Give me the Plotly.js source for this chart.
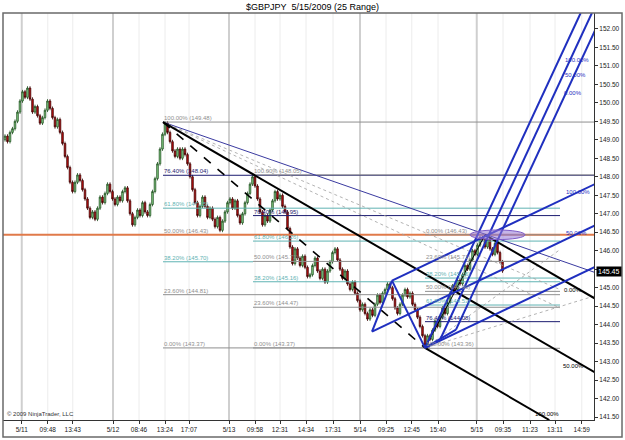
<!DOCTYPE html>
<html><head><meta charset="utf-8">
<script src="https://cdn.plot.ly/plotly-3.0.1.min.js"></script>
<style>html,body{margin:0;padding:0;background:#fff}#chart{width:625px;height:440px}</style>
</head><body><div id="chart"></div>
<script>
// ---- price data (25-range bars), closes ----
const closes = [149.10,148.95,149.20,149.30,149.50,149.75,150.05,150.30,150.15,150.40,
 150.10,149.75,149.90,149.65,149.45,149.60,149.80,150.05,149.85,149.60,
 149.35,149.55,149.20,148.90,148.55,148.25,147.85,147.60,147.85,148.05,
 147.90,147.65,147.40,147.15,146.90,147.05,146.85,147.15,147.45,147.30,
 147.55,147.80,147.60,147.40,147.25,147.45,147.35,147.60,147.70,147.35,
 147.00,146.70,146.90,147.10,146.95,147.30,147.05,146.95,147.25,147.60,
 147.95,148.35,148.75,149.15,149.45,149.20,148.95,148.70,148.55,148.75,
 148.50,148.75,148.60,148.35,148.00,147.65,147.30,146.95,147.20,147.45,
 147.20,146.90,147.15,146.85,146.65,146.90,146.55,146.80,147.05,147.30,
 147.40,147.15,147.35,146.95,146.75,147.00,147.30,147.55,147.80,148.00,
 147.75,147.40,147.05,146.70,146.95,146.80,147.10,147.35,147.60,147.40,
 147.50,147.20,147.05,146.60,146.10,145.65,146.05,145.80,145.60,145.85,
 145.55,145.30,145.35,145.60,145.80,145.45,145.25,145.50,145.15,145.45,
 145.70,145.95,146.05,145.75,145.50,145.25,145.45,145.10,144.95,145.15,
 144.85,144.65,144.40,144.55,144.30,144.15,144.40,144.25,144.55,144.80,
 144.60,144.85,144.95,145.10,145.00,144.70,144.45,144.30,144.55,144.80,
 144.95,144.75,144.85,144.55,144.40,144.20,143.95,143.70,143.45,143.70,
 143.60,143.85,144.10,143.95,144.20,144.45,144.30,144.60,144.85,145.05,
 144.95,145.20,145.10,145.35,145.60,145.50,145.75,146.00,145.90,146.15,
 146.35,146.30,146.10,146.30,146.05,145.90,146.20,145.95,145.70,145.45];
const firstOpen = 149.00;
const lastPrice = 145.45;

// ---- axes ----
const tickBars = [6.7,17.1,27.1,43.2,53.6,64,73.6,89.6,100,110,120.4,131.2,142,152.4,162.7,173.2,188.7,199.2,210,220,230.7];
const tickLabels = ['5/11','09:48','13:43','5/12','08:46','13:24','17:07','5/13','09:58','12:31','14:34','17:31','5/14','09:25','12:45','15:40','5/15','09:35','11:23','13:11','14:59'];
const dayLabels = ['5/11','5/12','5/13','5/14','5/15'];
const priceTicks = [141.5,142,142.5,143,143.5,144,144.5,145,145.5,146,146.5,147,147.5,148,148.5,149,149.5,150,150.5,151,151.5,152];

// ---- Fibonacci retracements ----
const fibPct = ['100.00%','76.40%','61.80%','50.00%','38.20%','23.60%','0.00%'];
const fibKind = ['g','n','t','g','t','g','g'];
const fibAStart = 63.2;
const fibAPrice = [149.48,148.04,147.15,146.43,145.70,144.81,143.37];
const fibAEnd = [236,236,222,222,99.2,222,170];
const fibBStart = 99.2;
const fibBPrice = [148.05,146.95,146.26,145.71,145.16,144.47,143.37];
const fibBEnd = [236,222,222,222,222,222,170];
const fibCPct = ['0.00%','23.60%','38.20%','50.00%','61.80%','76.40%','100.00%'];
const fibCKind = ['g','g','t','g','t','n','g'];
const fibCStart = 168;
const fibCPrice = [146.43,145.71,145.26,144.90,144.53,144.08,143.36];
const fibCEnd = 222;

// ---- drawing anchors (bar, price) ----
const peakA = [63.2, 149.48];
const topB = [192, 146.43];
const lowC = [168, 143.37];
const orangeLevel = 146.43;
const pfA = [146.8, 143.81], pfB = [154.8, 145.19], pfC = [168, 143.37];    // small blue fork
const sfA = [170.3, 143.05], sfB = [168, 143.37], sfC = [180.4, 143.865];  // steep blue fork
const navyEnd = [236, 145.41];
const grayFanEnds = [[222, 144.95], [222, 144.45]];
const lowFanEnds = [[222, 146.03], [236, 144.78]];
const ellipseBars = [186, 208], ellipsePrices = [146.30, 146.56];

// ---------------------------------------------------------------
const bars = closes.map((_, i) => i);
const opens = closes.map((c, i) => i === 0 ? firstOpen : closes[i - 1]);
const highs = closes.map((c, i) => Math.max(c, opens[i]) + 0.05);
const lows = closes.map((c, i) => Math.min(c, opens[i]) - 0.05);

const XMAX = 235.6, YMIN = 141.42, YMAX = 152.43;
const GRAY = '#8f8f8f', TEAL = '#5fb3b3', NAVY = '#1c1c70', BLUE = '#1f2fbf';
const FONT = 'Liberation Sans, Arial, sans-serif';
const kc = k => k === 'g' ? GRAY : (k === 't' ? TEAL : NAVY);

const shapes = [], ann = [];
function seg(p, q, color, width, dash) {
  shapes.push({type: 'line', xref: 'x', yref: 'y', x0: p[0], y0: p[1], x1: q[0], y1: q[1],
    line: {color: color, width: width, dash: dash || 'solid'}, layer: 'above'});
}
function clipEnd(p, slope, xEnd) {
  let y = p[1] + slope * (xEnd - p[0]);
  if (y > YMAX) return [p[0] + (YMAX - p[1]) / slope, YMAX];
  if (y < YMIN) return [p[0] + (YMIN - p[1]) / slope, YMIN];
  return [xEnd, y];
}
function label(x, y, text, color, size, xanchor, yanchor) {
  ann.push({x: x, y: y, xref: 'x', yref: 'y', text: text, showarrow: false,
    font: {family: FONT, size: size || 6, color: color},
    xanchor: xanchor || 'left', yanchor: yanchor || 'bottom', borderpad: 0});
}

// gridlines
tickBars.forEach((b, i) => {
  const day = dayLabels.includes(tickLabels[i]);
  shapes.push({type: 'line', xref: 'x', yref: 'paper', x0: b, x1: b, y0: 0, y1: 1,
    line: {color: day ? '#cfcfcf' : '#ececec', width: day ? 2 : 1}, layer: 'below'});
});

// orange horizontal
shapes.push({type: 'line', xref: 'paper', yref: 'y', x0: 0, x1: 1, y0: orangeLevel, y1: orangeLevel,
  line: {color: '#e07a4a', width: 2}, layer: 'above'});

// fib A & B & C
fibAPrice.forEach((p, i) => { if (i !== 3) seg([fibAStart, p], [fibAEnd[i], p], kc(fibKind[i]), 1);
  label(fibAStart, p, fibPct[i] + ' (' + p.toFixed(2) + ')', kc(fibKind[i])); });
fibBPrice.forEach((p, i) => { seg([fibBStart, p], [fibBEnd[i], p], kc(fibKind[i]), 1);
  label(fibBStart, p, fibPct[i] + ' (' + p.toFixed(2) + ')', kc(fibKind[i])); });
fibCPrice.forEach((p, i) => { seg([fibCStart, p], [fibCEnd, p], kc(fibCKind[i]), 1);
  label(fibCStart, p, fibCPct[i] + ' (' + p.toFixed(2) + ')', kc(fibCKind[i])); });

// thin fan lines
seg(peakA, navyEnd, '#3a3aa0', 1);
grayFanEnds.forEach(e => seg(peakA, e, '#a0a0a0', 0.8, 'dot'));
lowFanEnds.forEach(e => seg(lowC, e, '#a0a0a0', 0.8, 'dot'));

// black pitchfork (A = peak, B = recent top, C = low)
const bM = [(topB[0] + lowC[0]) / 2, (topB[1] + lowC[1]) / 2];
const bSlope = (bM[1] - peakA[1]) / (bM[0] - peakA[0]);
const bMedEnd = clipEnd(peakA, bSlope, 236), bUpEnd = clipEnd(topB, bSlope, 236), bLoEnd = clipEnd(lowC, bSlope, 236);
seg(peakA, bMedEnd, '#000', 2);
seg(topB, bUpEnd, '#000', 2);
seg(lowC, bLoEnd, '#000', 2);
seg(peakA, lowC, '#000', 1.6, 'dash');
seg(lowC, topB, '#000', 1);
label(232, bMedEnd[1] + 0.08, '50.00%', '#000', 6, 'right', 'bottom');
label(231, bUpEnd[1] + 0.12, '0.00%', '#000', 6, 'right', 'bottom');
label(bLoEnd[0] - 1, 141.47, '100.00%', '#000', 6, 'center', 'bottom');

// small blue pitchfork
const pfM = [(pfB[0] + pfC[0]) / 2, (pfB[1] + pfC[1]) / 2];
const pfS = (pfM[1] - pfA[1]) / (pfM[0] - pfA[0]);
seg(pfA, pfB, BLUE, 2); seg(pfB, pfC, BLUE, 2);
[pfB, pfA, pfC].forEach((p, i) => {
  const e = clipEnd(p, pfS, 236); seg(p, e, BLUE, 2);
  if (i < 2) label(224, e[1] - 0.1, ['100.00%', '50.00%'][i], BLUE, 6, 'left', 'top');
});

// steep blue pitchfork (A lies on the median, used for its slope)
const sfM = [(sfB[0] + sfC[0]) / 2, (sfB[1] + sfC[1]) / 2];
const sfS = (sfM[1] - sfA[1]) / (sfM[0] - sfA[0]);
seg(sfB, sfC, BLUE, 2);
[sfB, sfM, sfC].forEach(p => seg(p, clipEnd(p, sfS, 236), BLUE, 2));
label(234, 151.16, '100.00%', BLUE, 6, 'right', 'middle');
label(232.8, 150.76, '50.00%', BLUE, 6, 'right', 'middle');
label(231.2, 150.27, '0.00%', BLUE, 6, 'right', 'middle');

// ellipse
shapes.push({type: 'circle', xref: 'x', yref: 'y', x0: ellipseBars[0], x1: ellipseBars[1],
  y0: ellipsePrices[0], y1: ellipsePrices[1], fillcolor: 'rgba(150,120,215,0.55)',
  line: {color: '#7d5cc8', width: 1}, layer: 'above'});

// outer frame
shapes.push({type: 'rect', xref: 'paper', yref: 'paper', x0: 0, x1: 1.0474, y0: -0.0418, y1: 1,
  line: {color: '#6a6a6a', width: 1.5}, layer: 'above'});

// last price marker
ann.push({xref: 'paper', yref: 'y', x: 1.004, y: lastPrice, text: lastPrice.toFixed(2), showarrow: false,
  xanchor: 'left', yanchor: 'middle', bgcolor: '#000', font: {family: FONT, size: 7, color: '#fff'}, borderpad: 1});
// copyright
ann.push({xref: 'paper', yref: 'paper', x: 0.003, y: 0.002, text: '\u00a9 2009 NinjaTrader, LLC', showarrow: false,
  xanchor: 'left', yanchor: 'bottom', font: {family: FONT, size: 6, color: '#333'}});

const trace = {type: 'candlestick', x: bars, open: opens, high: highs, low: lows, close: closes,
  increasing: {line: {color: '#1d4d1d', width: 0.8}, fillcolor: '#8fdc8f'},
  decreasing: {line: {color: '#3a0000', width: 0.8}, fillcolor: '#cc1010'},
  whiskerwidth: 0, hoverinfo: 'skip', showlegend: false};

const layout = {
  width: 625, height: 440, margin: {l: 3, r: 31, t: 13, b: 20},
  paper_bgcolor: '#fff', plot_bgcolor: '#fff', showlegend: false, boxgap: 0.1,
  title: {text: '$GBPJPY  5/15/2009 (25 Range)', x: 0.5, xanchor: 'center', y: 0.984, yanchor: 'middle',
    font: {family: FONT, size: 9, color: '#000'}},
  xaxis: {range: [-0.8, XMAX], tickvals: tickBars, ticktext: tickLabels, ticks: 'outside', ticklen: 3,
    tickcolor: '#333', showgrid: false, zeroline: false, showline: true, linecolor: '#333', linewidth: 1,
    tickfont: {family: FONT, size: 6.5, color: '#222'}, rangeslider: {visible: false}, fixedrange: true},
  yaxis: {range: [YMIN, YMAX], side: 'right', tickvals: priceTicks,
    ticktext: priceTicks.map(v => Math.abs(v - lastPrice) < 0.2 ? '' : v.toFixed(2)),
    ticks: 'outside', ticklen: 3, tickcolor: '#333', showgrid: false, zeroline: false, showline: true,
    linecolor: '#333', linewidth: 1, tickfont: {family: FONT, size: 6.5, color: '#222'}, fixedrange: true},
  shapes: shapes, annotations: ann
};
Plotly.newPlot('chart', [trace], layout, {staticPlot: true, displayModeBar: false});
</script></body></html>
